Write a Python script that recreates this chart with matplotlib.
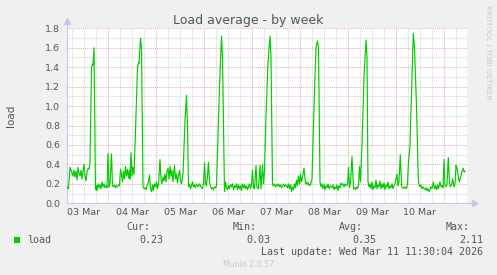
import matplotlib
matplotlib.use("Agg")
import matplotlib.pyplot as plt
import matplotlib.dates as mdates
from matplotlib.patches import Rectangle
from matplotlib.ticker import MultipleLocator, NullFormatter
from datetime import datetime, timedelta

# half-hour slots since Mar 3 03:30 and the load read at that slot
points = [
    (0, .17), (1.5, .15), (3, .37), (4.5, .33), (6, .28), (7, .34), (8, .27), (9, .33),
    (10, .24), (11, .37), (12, .31), (13, .28), (14, .34), (15, .25), (16, .33), (17, .40),
    (18, .28), (19, .23), (20, .32), (21, .36), (22, .35), (23, .42), (24.5, 1.40), (25.5, 1.43),
    (26, 1.42), (27, 1.60), (28.5, .14), (29.5, .18), (30, .13), (31, .20), (32, .16), (33, .19),
    (34, .15), (35, .22), (36, .17), (37, .20), (38, .16), (39, .18), (40, .16), (41, .51),
    (42, .17), (43, .20), (44.5, .51), (45.5, .18), (46.5, .17), (47.5, .19), (48.5, .16),
    (49.5, .18), (50.5, .17), (51.5, .19), (52.5, .18), (53.5, .35), (54.5, .30), (55.5, .22),
    (56.5, .33), (57.5, .25), (58.5, .38), (59.5, .28), (60.5, .35), (61.5, .26), (62.5, .34),
    (63, .25), (64, .52), (65, .28), (66, .37), (67, .30), (69, .90), (70.5, 1.40), (71.5, 1.45),
    (72, 1.44), (73.5, 1.70), (74.5, 1.60), (76, .17), (77, .15), (78, .16), (79, .14), (80, .18),
    (81, .20), (82.5, .29), (83.5, .15), (84.5, .12), (85.5, .19), (86.5, .13), (87.5, .20),
    (88.5, .17), (89.5, .22), (90.5, .15), (91.5, .20), (93, .45), (94, .25), (95, .20), (96, .27),
    (97, .23), (98, .30), (99, .22), (100, .33), (101, .36), (102, .25), (103, .38), (104, .28),
    (105, .34), (106, .22), (107.5, .39), (108.5, .25), (109.5, .30), (110.5, .21), (111.5, .28),
    (112.5, .34), (113.5, .24), (114.5, .20), (116, .30), (118, .85), (119.5, 1.11), (120.5, .80),
    (121.5, .17), (122.5, .20), (123.5, .15), (124.5, .18), (125.5, .22), (126.5, .17),
    (127.5, .19), (128.5, .16), (129.5, .20), (130.5, .18), (131.5, .17), (132.5, .20),
    (133.5, .18), (134.5, .16), (135.5, .15), (136.5, .20), (137.5, .42), (138.5, .20),
    (139.5, .18), (140.5, .28), (141.5, .42), (142.5, .22), (143.5, .18), (144.5, .15),
    (145.5, .16), (146.5, .14), (147.5, .17), (148.5, .16), (149.5, .18), (152.5, 1.20),
    (154.5, 1.72), (155.5, 1.50), (157.5, .12), (158.5, .22), (159.5, .16), (160.5, .14),
    (161.5, .18), (162.5, .15), (163.5, .19), (164.5, .17), (165.5, .20), (166.5, .14),
    (167.5, .18), (168.5, .16), (169.5, .20), (170.5, .14), (171.5, .19), (172.5, .15),
    (173.5, .18), (174.5, .13), (175.5, .20), (176.5, .16), (177.5, .19), (178.5, .15),
    (179.5, .18), (180.5, .14), (181.5, .17), (182.5, .20), (183.5, .15), (184.5, .19),
    (185.5, .34), (186.5, .16), (187.5, .15), (189, .39), (190, .16), (191.5, .15), (193, .39),
    (194, .15), (195.5, .40), (196.5, .20), (197.5, .33), (199, .90), (201, 1.45), (203, 1.72),
    (204, 1.50), (205.5, .19), (206.5, .18), (207.5, .20), (208.5, .17), (209.5, .19),
    (210.5, .18), (211.5, .20), (212.5, .17), (213.5, .19), (214.5, .16), (215.5, .18),
    (216.5, .20), (217.5, .17), (218.5, .19), (219.5, .18), (220.5, .16), (221.5, .20),
    (222.5, .15), (223.5, .19), (224.5, .12), (225.5, .17), (226.5, .14), (227.5, .20),
    (228.5, .16), (229.5, .24), (230.5, .18), (231.5, .28), (232.5, .20), (233.5, .30),
    (234.5, .22), (235.5, .27), (237, .36), (238.5, .20), (239.5, .22), (240.5, .19),
    (241.5, .21), (242.5, .18), (243.5, .19), (245, .25), (247, 1.00), (249, 1.60),
    (250.5, 1.67), (251.5, 1.60), (253, .22), (254, .17), (255, .20), (256, .15), (257, .19),
    (258, .14), (259, .18), (260, .16), (261, .20), (262, .15), (263, .18), (264, .17),
    (265, .16), (266, .19), (267, .14), (268, .17), (269, .15), (270, .19), (271, .13),
    (272, .18), (273, .16), (274, .21), (275, .19), (276, .20), (277, .17), (278, .20),
    (279, .18), (280.5, .19), (281.5, .37), (282.5, .16), (283.5, .22), (285, .48), (286.5, .15),
    (287.5, .16), (288.5, .14), (289.5, .17), (290.5, .15), (291.5, .18), (292.5, .38),
    (293.5, .22), (295, .60), (297, 1.30), (299, 1.68), (300, 1.50), (301, .22), (302, .17),
    (303, .20), (304, .15), (305, .22), (306, .14), (307, .18), (308, .16), (309, .24),
    (310, .15), (311, .19), (312, .17), (313, .23), (314, .15), (315, .20), (316, .16),
    (317, .21), (318, .14), (319, .19), (320, .17), (321, .22), (322, .15), (323, .18),
    (324, .16), (325, .20), (326, .15), (327, .18), (328, .20), (330, .30), (331, .18),
    (332, .22), (333.3, .50), (334.7, .17), (335.5, .16), (336.5, .15), (337.5, .17),
    (338.5, .16), (339.5, .15), (340.5, .20), (341.3, .39), (343, .60), (345, 1.30),
    (346.3, 1.75), (347.5, 1.60), (349.5, 1.00), (351.3, .25), (352, .19), (353, .17),
    (354, .19), (355, .15), (356, .17), (357, .15), (358, .14), (359, .16), (360, .13),
    (361, .15), (362, .12), (363, .14), (364, .17), (365, .15), (366.3, .22), (367.5, .15),
    (368.5, .18), (369.5, .14), (370.5, .19), (371.5, .15), (373, .22), (374, .17), (375, .18),
    (376, .16), (377, .45), (378, .18), (379, .17), (380, .19), (381.3, .47), (382.5, .20),
    (383.5, .17), (384.5, .19), (385.7, .25), (387, .17), (388, .20), (389, .39), (390, .36),
    (391, .30), (392.3, .22), (393.5, .26), (394.7, .32), (395.5, .34), (396.3, .36),
    (397.2, .32), (398, .33),
]
slot, load = zip(*points)

start = datetime(2026, 3, 3, 3, 30)
n_slots = 400
day_labels = ["03 Mar", "04 Mar", "05 Mar", "06 Mar", "07 Mar", "08 Mar", "09 Mar", "10 Mar"]
legend_heads = ["Cur:", "Min:", "Avg:", "Max:"]
legend_vals = ["0.23", "0.03", "0.35", "2.11"]
last_update = "Last update: Wed Mar 11 11:30:04 2026"

W, H = 497, 275
TXT = "#555555"
fig = plt.figure(figsize=(W / 100, H / 100), dpi=100, facecolor="#F0F0F0")
L, R, T, B = 67, 467, 28.3, 203.3
ax = fig.add_axes([L / W, 1 - B / H, (R - L) / W, (B - T) / H])
ax.set_facecolor("white")

times = [start + timedelta(minutes=30 * s) for s in slot]
ax.plot(times, load, color="#00CC00", lw=0.85, zorder=3)

ax.set_xlim(start, start + timedelta(minutes=30 * n_slots))
ax.set_ylim(0, 1.8)

ax.yaxis.set_major_locator(MultipleLocator(0.2))
ax.yaxis.set_minor_locator(MultipleLocator(0.1))
ax.xaxis.set_major_locator(mdates.DayLocator())
ax.xaxis.set_minor_locator(mdates.HourLocator(byhour=[6, 12, 18]))
ax.xaxis.set_major_formatter(NullFormatter())
ax.yaxis.set_major_formatter(lambda v, p: f"{v:.1f}")
ax.set_axisbelow(True)
ax.grid(which="major", color="#EBA8A8", ls=(0, (1, 1)), lw=0.7)
ax.grid(which="minor", color="#D4D4D4", ls=(0, (1, 1)), lw=0.7)
ax.tick_params(which="both", length=0, labelsize=6.8, colors=TXT, pad=5)

for s in ["top", "right"]:
    ax.spines[s].set_visible(False)
for s in ["left", "bottom"]:
    ax.spines[s].set_color("#C4C8F0")
    ax.spines[s].set_linewidth(0.8)

# axis arrows
ax.plot([0], [1.04], marker="^", ms=4, color="#C4C8F0", transform=ax.transAxes, clip_on=False)
ax.plot([0, 0], [1.0, 1.03], color="#C4C8F0", lw=0.8, transform=ax.transAxes, clip_on=False)
ax.plot([1.0, 1.015], [0, 0], color="#C4C8F0", lw=0.8, transform=ax.transAxes, clip_on=False)
ax.plot([1.02], [0], marker=">", ms=4, color="#C4C8F0", transform=ax.transAxes, clip_on=False)

# day labels centred on noon
for i, lab in enumerate(day_labels):
    d = datetime(2026, 3, 3 + i, 12, 0)
    ax.text(mdates.date2num(d), -0.055, lab, transform=ax.get_xaxis_transform(),
            ha="center", va="center", fontsize=6.8, color=TXT)

fig.text(248 / W, 1 - 24 / H, "Load average - by week", ha="center", va="baseline",
         fontsize=9, color=TXT)
fig.text(11 / W, 1 - 116 / H, "load", rotation=90, ha="center", va="center",
         fontsize=7.5, color=TXT)
fig.text(488 / W, 1 - 5 / H, "RRDTOOL / TOBI OETIKER", rotation=270, ha="center", va="top",
         fontsize=5.3, color="#C8C8C8")

mono = "DejaVu Sans Mono"
head_x = [150, 257, 363, 470]
val_x = [163, 270, 376, 483]
for hx, vx, h, v in zip(head_x, val_x, legend_heads, legend_vals):
    fig.text(hx / W, 1 - 230.5 / H, h, ha="right", va="baseline", family=mono, fontsize=7.2, color=TXT)
    fig.text(vx / W, 1 - 243 / H, v, ha="right", va="baseline", family=mono, fontsize=7.2, color=TXT)
fig.patches.append(Rectangle((14 / W, 1 - 243 / H), 6 / W, 6 / H, transform=fig.transFigure,
                             facecolor="#00CC00", edgecolor="none"))
fig.text(27 / W, 1 - 243 / H, "load", ha="left", va="baseline", family=mono, fontsize=7.2, color=TXT)
fig.text(483 / W, 1 - 255 / H, last_update, ha="right", va="baseline", family=mono,
         fontsize=7.2, color=TXT)
fig.text(248 / W, 1 - 267 / H, "Munin 2.0.57", ha="center", va="baseline", fontsize=5.6,
         color="#C8C8C8")

fig.savefig("out.png", dpi=100, facecolor=fig.get_facecolor())
